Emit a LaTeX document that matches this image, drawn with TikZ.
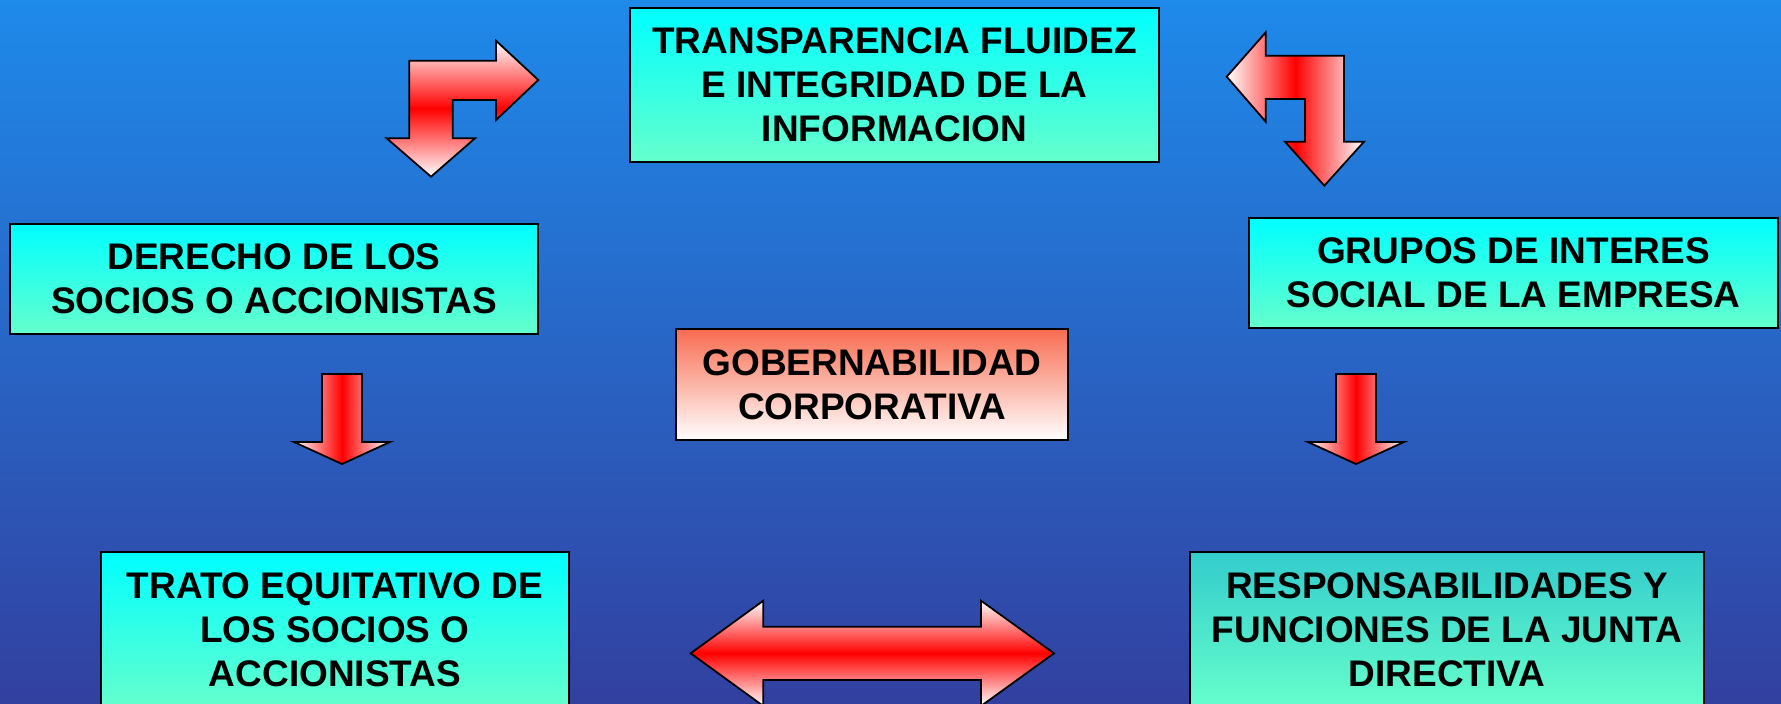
\documentclass[tikz,border=0pt]{standalone}
\usepackage{fontspec}
\setmainfont{Liberation Sans}

\definecolor{bgtop}{RGB}{30,138,234}
\definecolor{bgbot}{RGB}{50,64,160}
\definecolor{boxtop}{RGB}{0,255,255}
\definecolor{boxbot}{RGB}{102,255,204}
\definecolor{boxdark}{RGB}{51,204,204}
\definecolor{govtop}{RGB}{248,108,80}

\begin{document}
\begin{tikzpicture}[x=0.5pt,y=-0.5pt,
    box/.style={draw=black, line width=1pt, top color=boxtop, bottom color=boxbot,
        align=center, inner sep=0pt, font=\fontsize{18.5}{22}\selectfont\bfseries},
    redarrow/.style={draw=black, line width=0.9pt, line join=miter}]

    \useasboundingbox (0,0) rectangle (1781,703);
    \clip (0,0) rectangle (1781,703);
    \shade[top color=bgtop, bottom color=bgbot] (0,0) rectangle (1781,703);

    \node[box, minimum width=264.5pt, minimum height=77pt] (info) at (894.5,85)
        {TRANSPARENCIA FLUIDEZ\\E INTEGRIDAD DE LA\\INFORMACION};
    \node[box, minimum width=264pt, minimum height=55pt] (derecho) at (274,279)
        {DERECHO DE LOS\\SOCIOS O ACCIONISTAS};
    \node[box, minimum width=264.5pt, minimum height=55pt] (grupos) at (1513.5,273)
        {GRUPOS DE INTERES\\SOCIAL DE LA EMPRESA};
    \node[box, top color=govtop, bottom color=white, minimum width=196pt, minimum height=55.5pt] (gob) at (872,384.5)
        {GOBERNABILIDAD\\CORPORATIVA};
    \node[box, minimum width=234pt, minimum height=78pt] (trato) at (335,630)
        {TRATO EQUITATIVO DE\\LOS SOCIOS O\\ACCIONISTAS};
    \node[box, top color=boxdark, minimum width=257pt, minimum height=78pt] (resp) at (1447,630)
        {RESPONSABILIDADES Y\\FUNCIONES DE LA JUNTA\\DIRECTIVA};

    % bent arrows at the top
    \path[redarrow, top color=white, bottom color=white, middle color=red]
        (409.3,60.7) -- (496,60.7) -- (496,40.7) -- (538.3,80) -- (496,120) -- (496,100)
        -- (452.7,100) -- (452.7,138.3) -- (475,138.3) -- (431,176.7) -- (386.7,138.3)
        -- (409.3,138.3) -- cycle;
    \path[redarrow, left color=white, right color=white, middle color=red]
        (1226.7,76.7) -- (1265.7,32.3) -- (1265.7,55.7) -- (1344,55.7) -- (1344,141.7)
        -- (1364,141.7) -- (1324.3,185.7) -- (1285,141.7) -- (1305,141.7) -- (1305,99)
        -- (1265.7,99) -- (1265.7,121.7) -- cycle;

    % down arrows
    \foreach \x in {342,1356}
        \path[redarrow, left color=white, right color=white, middle color=red]
            (\x-20,374) -- (\x+20,374) -- (\x+20,442) -- (\x+48,442) -- (\x,464)
            -- (\x-48,442) -- (\x-20,442) -- cycle;

    % double arrow
    \path[redarrow, top color=white, bottom color=white, middle color=red]
        (690.7,653.3) -- (763.3,600.7) -- (763.3,626.7) -- (981,626.7) -- (981,600.7)
        -- (1054,653.3) -- (981,706) -- (981,680) -- (763.3,680) -- (763.3,706) -- cycle;

\end{tikzpicture}
\end{document}
